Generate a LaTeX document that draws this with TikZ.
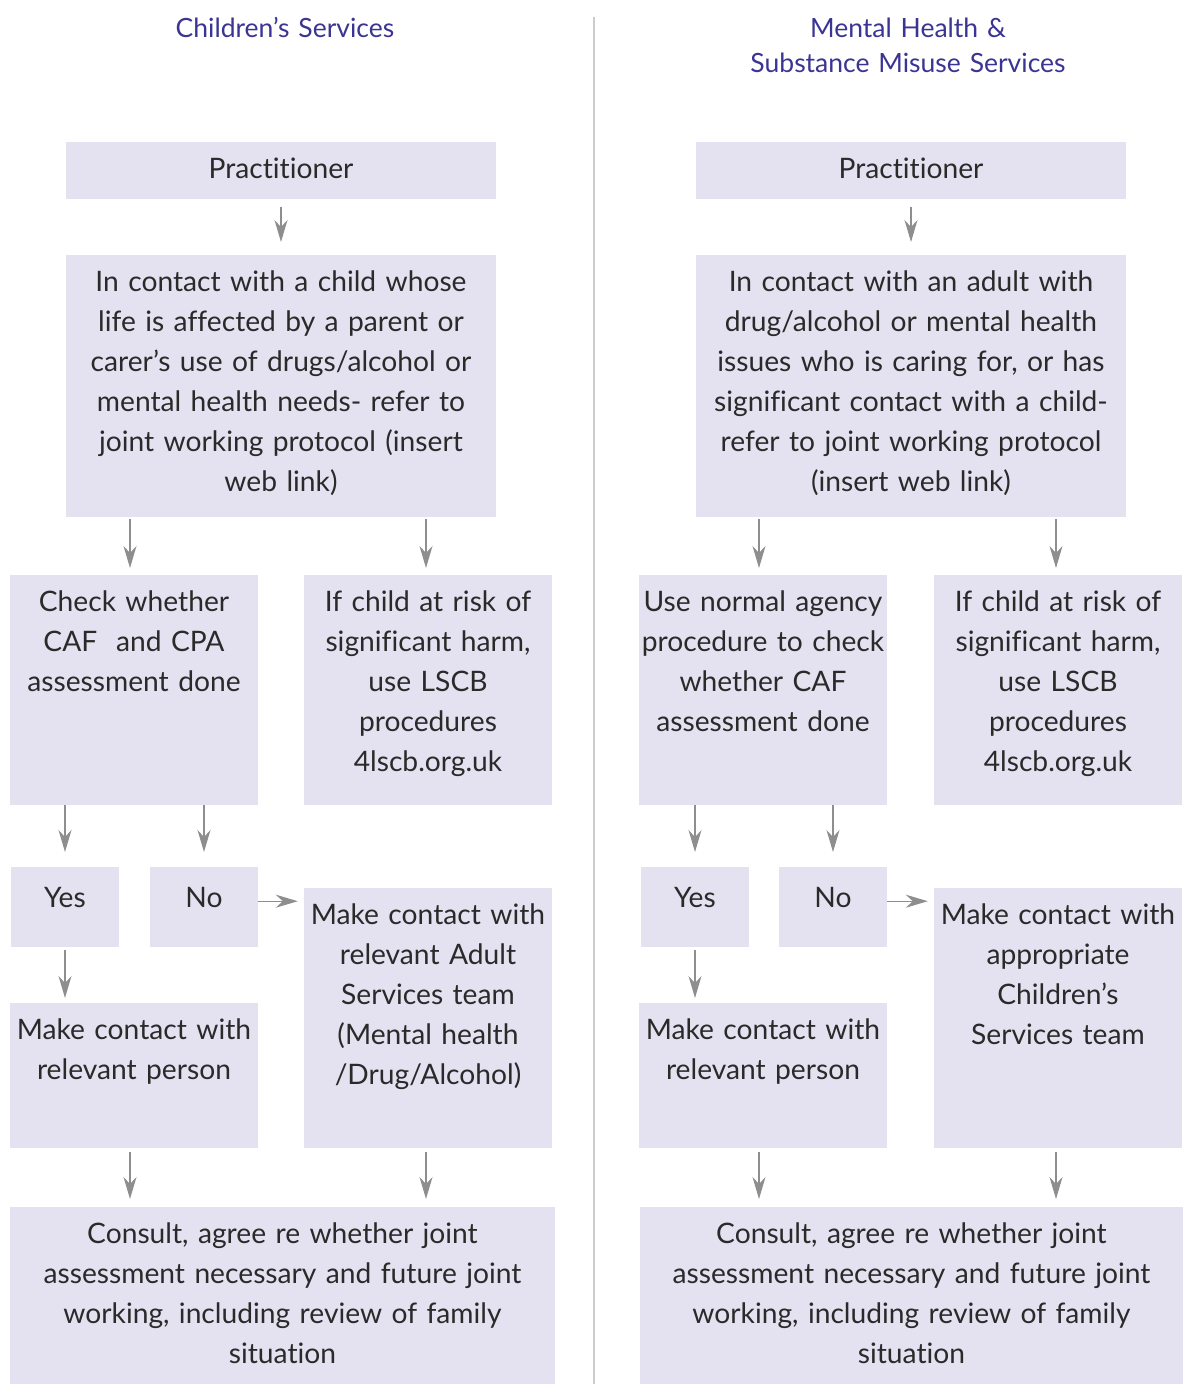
\documentclass[tikz,border=0pt]{standalone}
\usepackage{fontspec}
\setmainfont[Ligatures=NoCommon]{Lato}
\usepackage{tikz}
\usetikzlibrary{arrows.meta}
\definecolor{boxfill}{HTML}{E4E2F0}
\definecolor{headblue}{HTML}{3C3492}
\definecolor{arrowgray}{HTML}{8E8E8E}
\definecolor{inkgray}{HTML}{2A2A2A}
\tikzset{x=1pt, y=-1pt,
cell/.style={ % lavender box, text hung from the top
fill=boxfill,
inner sep=0pt,
anchor=north,
align=center,
text=inkgray,
text height=36pt,
font=\fontsize{28.2}{40}\selectfont},
heading/.style={
text=headblue,
align=center,
inner sep=0pt,
anchor=base,
font=\fontsize{26.5}{35}\selectfont},
flow/.style={ % grey connector with a stealth head
draw=arrowgray,
line width=1.4pt,
-{Stealth[length=22pt,width=13pt,inset=7pt]}}}

\begin{document}
\begin{tikzpicture}
\useasboundingbox (0,0) rectangle (1183,1384);
\draw[draw=black!20, line width=2pt] (594,17) -- (594,1384);

% headings
\node[heading, text width=500pt] (headL) at (285,37) {Children’s Services};
\node[heading, text width=500pt] (headR) at (908,37) {Mental Health \&\\ Substance Misuse Services};

% left column
\node[cell, text width=430pt, text depth=21pt] (pracL) at (281,142) {Practitioner};
\node[cell, text width=430pt, text depth=226pt] (mainL) at (281,255) {In contact with a child whose\\ life is affected by a parent or\\ carer’s use of drugs/alcohol or\\ mental health needs- refer to\\ joint working protocol (insert\\ web link)};
\node[cell, text width=248pt, text depth=194pt] (checkL) at (134,575) {Check whether\\ CAF~ and CPA\\ assessment done};
\node[cell, text width=248pt, text depth=194pt] (riskL) at (428,575) {If child at risk of\\ significant harm,\\ use LSCB\\ procedures\\ 4lscb.org.uk};
\node[cell, text width=108pt, text height=40pt, text depth=40pt] (yesL) at (65,867) {Yes};
\node[cell, text width=108pt, text height=40pt, text depth=40pt] (noL) at (204,867) {No};
\node[cell, text width=248pt, text depth=109pt] (personL) at (134,1003) {Make contact with\\ relevant person};
\node[cell, text width=248pt, text depth=224pt] (teamL) at (428,888) {Make contact with\\ relevant Adult\\ Services team\\ (Mental health\\ /Drug/Alcohol)};
\node[cell, text width=545pt, text depth=141pt] (consultL) at (282.5,1207) {Consult, agree re whether joint\\ assessment necessary and future joint\\ working, including review of family\\ situation};

% right column
\node[cell, text width=430pt, text depth=21pt] (pracR) at (911,142) {Practitioner};
\node[cell, text width=430pt, text depth=226pt] (mainR) at (911,255) {In contact with an adult with\\ drug/alcohol or mental health\\ issues who is caring for, or has\\ significant contact with a child-\\ refer to joint working protocol\\ (insert web link)};
\node[cell, text width=248pt, text depth=194pt] (checkR) at (763,575) {Use normal agency\\ procedure to check\\ whether CAF\\ assessment done};
\node[cell, text width=248pt, text depth=194pt] (riskR) at (1058,575) {If child at risk of\\ significant harm,\\ use LSCB\\ procedures\\ 4lscb.org.uk};
\node[cell, text width=108pt, text height=40pt, text depth=40pt] (yesR) at (695,867) {Yes};
\node[cell, text width=108pt, text height=40pt, text depth=40pt] (noR) at (833,867) {No};
\node[cell, text width=248pt, text depth=109pt] (personR) at (763,1003) {Make contact with\\ relevant person};
\node[cell, text width=248pt, text depth=224pt] (teamR) at (1058,888) {Make contact with\\ appropriate\\ Children’s\\ Services team};
\node[cell, text width=543pt, text depth=141pt] (consultR) at (911.5,1207) {Consult, agree re whether joint\\ assessment necessary and future joint\\ working, including review of family\\ situation};

% connectors
\foreach \s in {L,R} {
\draw[flow, shorten <=8pt, shorten >=13pt] (prac\s) -- (main\s);
\draw[flow, shorten <=2pt, shorten >=7pt] ([xshift=-4pt]main\s.south -| check\s.north) -- ([xshift=-4pt]check\s.north);
\draw[flow, shorten <=2pt, shorten >=7pt] ([xshift=-2pt]main\s.south -| risk\s.north) -- ([xshift=-2pt]risk\s.north);
\draw[flow, shorten >=15pt] (check\s.south -| yes\s.north) -- (yes\s.north);
\draw[flow, shorten >=15pt] (check\s.south -| no\s.north) -- (no\s.north);
\draw[flow, shorten <=3pt, shorten >=5pt] (yes\s.south) -- (yes\s.south |- person\s.north);
\draw[flow, shorten >=6pt] ([yshift=6pt]no\s.east) -- ([yshift=6pt]no\s.east -| team\s.west);
\draw[flow, shorten <=4pt, shorten >=8pt] ([xshift=-4pt]person\s.south) -- ([xshift=-4pt]person\s.south |- consult\s.north);
\draw[flow, shorten <=4pt, shorten >=8pt] ([xshift=-2pt]team\s.south) -- ([xshift=-2pt]team\s.south |- consult\s.north);
}
\end{tikzpicture}
\end{document}
